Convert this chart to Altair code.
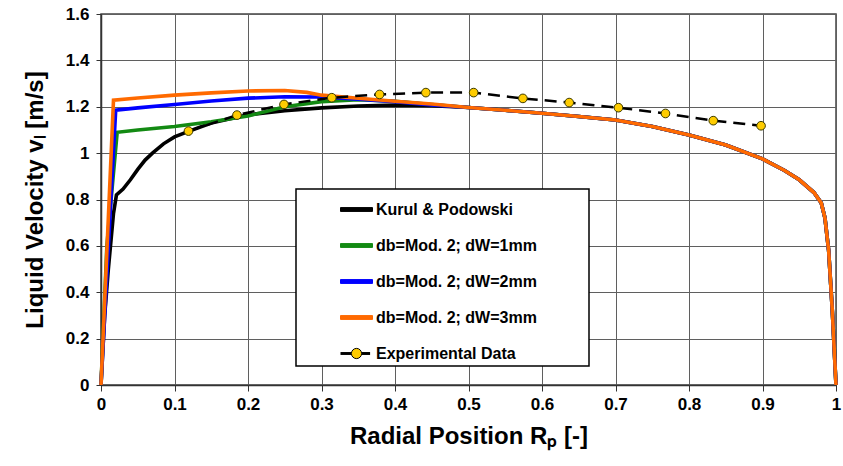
import altair as alt
import pandas as pd

SERIES = ["Kurul & Podowski", "db=Mod. 2; dW=1mm", "db=Mod. 2; dW=2mm",
          "db=Mod. 2; dW=3mm", "Experimental Data"]
LINE_COLORS = ["#000000", "#138A13", "#0000FF", "#FF6A00", "#000000"]
FILL_COLORS = ["#000000", "#138A13", "#0000FF", "#FF6A00", "#FFCC00"]

# shared near-wall part of all model profiles
TAIL_X = [0.55, 0.6, 0.65, 0.7, 0.75, 0.8, 0.85, 0.9, 0.93, 0.95, 0.97, 0.98, 0.985, 0.99, 0.995, 1.0]
TAIL_V = [1.185, 1.172, 1.158, 1.143, 1.115, 1.078, 1.035, 0.975, 0.925, 0.885, 0.83, 0.785, 0.72, 0.58, 0.32, 0.0]

KURUL_X = [0.0, 0.005, 0.01, 0.017, 0.021, 0.03, 0.04, 0.05, 0.06, 0.07, 0.085, 0.1, 0.12, 0.15, 0.2,
           0.25, 0.3, 0.35, 0.4, 0.45, 0.5]
KURUL_V = [0.0, 0.3, 0.5, 0.74, 0.82, 0.845, 0.885, 0.93, 0.97, 1.0, 1.04, 1.07, 1.095, 1.13, 1.165,
           1.183, 1.195, 1.203, 1.207, 1.205, 1.197]

DW1_X = [0.0, 0.008, 0.022, 0.05, 0.1, 0.15, 0.2, 0.25, 0.3, 0.35, 0.4, 0.45, 0.5]
DW1_V = [0.0, 0.6, 1.09, 1.10, 1.115, 1.135, 1.16, 1.2, 1.222, 1.23, 1.224, 1.21, 1.197]

DW2_X = [0.0, 0.02, 0.05, 0.1, 0.15, 0.2, 0.25, 0.3, 0.35, 0.4, 0.45, 0.5]
DW2_V = [0.0, 1.185, 1.195, 1.21, 1.225, 1.237, 1.243, 1.242, 1.233, 1.222, 1.208, 1.197]

DW3_X = [0.0, 0.017, 0.05, 0.1, 0.15, 0.2, 0.25, 0.28, 0.3, 0.35, 0.4, 0.45, 0.5]
DW3_V = [0.0, 1.228, 1.238, 1.25, 1.26, 1.268, 1.27, 1.262, 1.25, 1.237, 1.224, 1.212, 1.197]

EXP_X = [0.119, 0.185, 0.249, 0.314, 0.379, 0.442, 0.507, 0.574, 0.637, 0.704, 0.768, 0.833, 0.898]
EXP_V = [1.095, 1.164, 1.21, 1.239, 1.253, 1.261, 1.261, 1.236, 1.218, 1.196, 1.171, 1.14, 1.118]

X_TICKS = [0, 0.1, 0.2, 0.3, 0.4, 0.5, 0.6, 0.7, 0.8, 0.9, 1.0]
Y_TICKS = [0, 0.2, 0.4, 0.6, 0.8, 1.0, 1.2, 1.4, 1.6]

LINE_SHAPE = "M-1,-0.12H1V0.12H-1Z"
EXP_SHAPE = ("M-1,-0.06H-0.33M-1,0H-0.33M-1,0.06H-0.33"
             "M0.33,-0.06H0.85M0.33,0H0.85M0.33,0.06H0.85"
             "M0.32,0A0.32,0.32,0,1,1,-0.32,0A0.32,0.32,0,1,1,0.32,0Z")
SHAPES = [LINE_SHAPE, LINE_SHAPE, LINE_SHAPE, LINE_SHAPE, EXP_SHAPE]

FONT = "Liberation Sans"

rows = []
for name, xs, vs in [(SERIES[0], KURUL_X + TAIL_X, KURUL_V + TAIL_V),
                     (SERIES[1], DW1_X + TAIL_X, DW1_V + TAIL_V),
                     (SERIES[2], DW2_X + TAIL_X, DW2_V + TAIL_V),
                     (SERIES[3], DW3_X + TAIL_X, DW3_V + TAIL_V)]:
    for i, (a, b) in enumerate(zip(xs, vs)):
        rows.append({"series": name, "r": a, "v": b, "i": i})
models = pd.DataFrame(rows)
exp = pd.DataFrame({"series": SERIES[4], "r": EXP_X, "v": EXP_V})

x_enc = alt.X("r:Q", scale=alt.Scale(domain=[0, 1], nice=False, zero=False),
              axis=alt.Axis(values=X_TICKS, format=".1~f", title="Radial Position Rₚ [-]",
                            tickSize=6, labelPadding=5, titlePadding=12))
y_enc = alt.Y("v:Q", scale=alt.Scale(domain=[0, 1.6], nice=False),
              axis=alt.Axis(values=Y_TICKS, format=".1~f", title="Liquid Velocity vₗ [m/s]",
                            tickSize=5, labelPadding=7, titlePadding=18))

LEG = alt.Legend(title=None, orient="none", legendX=195, legendY=175,
                 strokeColor="black", fillColor="white", padding=4,
                 symbolSize=1024, symbolStrokeWidth=1, symbolOpacity=1,
                 symbolFillColor="transparent", symbolStrokeColor="black",
                 symbolOffset=40, labelOffset=3, rowPadding=11,
                 labelFont=FONT, labelFontWeight="bold", labelFontSize=16,
                 labelColor="black", labelLimit=400,
                 labelExpr="datum.label + '\u2800\u2800\u2800\u2800'")

color_enc = alt.Color("series:N", scale=alt.Scale(domain=SERIES, range=LINE_COLORS), legend=LEG)

layers = []
for s in SERIES[:4]:
    layers.append(
        alt.Chart(models).transform_filter(alt.datum.series == s)
        .mark_line(strokeWidth=3.6)
        .encode(x=x_enc, y=y_enc, color=color_enc, order=alt.Order("i:Q"))
    )

exp_line = alt.Chart(exp).mark_line(color="black", strokeWidth=2.5, strokeDash=[12, 7]).encode(x=x_enc, y=y_enc)
exp_pts = alt.Chart(exp).mark_point(shape="circle", filled=True, fill="#FFCC00", stroke="#3a3a00",
                                    strokeWidth=1, size=75, opacity=1).encode(x=x_enc, y=y_enc)

legend_carrier = alt.Chart(exp).transform_filter("false").mark_point(filled=True, opacity=1).encode(
    shape=alt.Shape("series:N", scale=alt.Scale(domain=SERIES, range=SHAPES), legend=LEG),
    fill=alt.Fill("series:N", scale=alt.Scale(domain=SERIES, range=FILL_COLORS), legend=LEG),
)

chart = alt.layer(*layers, exp_line, exp_pts, legend_carrier).properties(
    width=735, height=371,
    autosize=alt.AutoSizeParams(type="none"),
    padding={"left": 101, "top": 14, "right": 7, "bottom": 81},
).configure_view(
    stroke="#444444", strokeWidth=1.5
).configure_axis(
    grid=True, gridColor="#5f5f5f", gridWidth=1, gridOpacity=1,
    domainColor="#333333", domainWidth=1.5, tickColor="#333333", tickWidth=1,
    labelFont=FONT, labelFontWeight="bold", labelFontSize=17, labelColor="black",
    titleFont=FONT, titleFontWeight="bold", titleFontSize=24, titleColor="black",
    labelFlush=False, labelOverlap=False,
).configure_legend(
    strokeWidth=1.5
)

chart.save("out.html", embed_options={"renderer": "svg", "actions": False})
